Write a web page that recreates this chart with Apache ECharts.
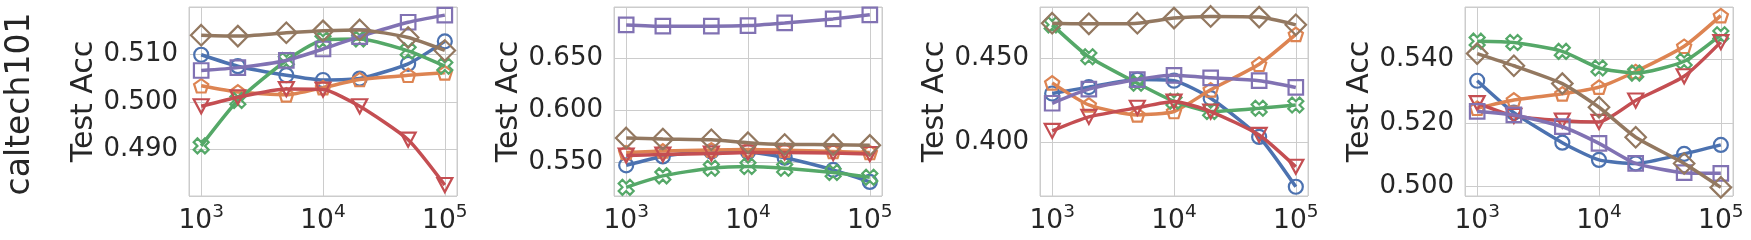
<!DOCTYPE html>
<html><head><meta charset="utf-8">
<script src="https://cdn.jsdelivr.net/npm/echarts@6/dist/echarts.min.js"></script>
<style>html,body{margin:0;padding:0;background:#fff}#c{width:1751px;height:240px}</style>
</head><body><div id="c"></div>
<script>
// ---- data ----
const sizes = [1000, 2000, 5000, 10000, 20000, 50000, 100000];
const rowLabel = 'caltech101';
const yAxisName = 'Test Acc';

const p1Circle   = [0.5099, 0.5075, 0.5056, 0.5046, 0.5049, 0.5080, 0.5127];
const p1Pentagon = [0.5034, 0.5021, 0.5015, 0.5030, 0.5047, 0.5056, 0.5061];
const p1X        = [0.4908, 0.5003, 0.5087, 0.5130, 0.5132, 0.5107, 0.5075];
const p1Triangle = [0.4991, 0.5010, 0.5027, 0.5026, 0.4991, 0.4921, 0.4826];
const p1Square   = [0.5066, 0.5072, 0.5087, 0.5111, 0.5137, 0.5167, 0.5182];
const p1Diamond  = [0.5140, 0.5138, 0.5145, 0.5149, 0.5151, 0.5135, 0.5108];

const p2Circle   = [0.5466, 0.5552, 0.5600, 0.5595, 0.5540, 0.5422, 0.5305];
const p2Pentagon = [0.5590, 0.5605, 0.5615, 0.5618, 0.5612, 0.5600, 0.5590];
const p2X        = [0.5253, 0.5364, 0.5438, 0.5455, 0.5438, 0.5396, 0.5351];
const p2Triangle = [0.5560, 0.5570, 0.5580, 0.5590, 0.5590, 0.5585, 0.5575];
const p2Square   = [0.6825, 0.6812, 0.6812, 0.6818, 0.6844, 0.6883, 0.6922];
const p2Diamond  = [0.5731, 0.5721, 0.5714, 0.5685, 0.5668, 0.5666, 0.5659];

const p3Circle   = [0.4290, 0.4328, 0.4373, 0.4366, 0.4262, 0.4032, 0.3736];
const p3Pentagon = [0.4353, 0.4222, 0.4163, 0.4183, 0.4312, 0.4464, 0.4641];
const p3X        = [0.4698, 0.4508, 0.4351, 0.4244, 0.4183, 0.4202, 0.4222];
const p3Triangle = [0.4068, 0.4151, 0.4205, 0.4242, 0.4183, 0.4044, 0.3855];
const p3Square   = [0.4232, 0.4316, 0.4373, 0.4398, 0.4383, 0.4366, 0.4326];
const p3Diamond  = [0.4708, 0.4704, 0.4708, 0.4738, 0.4748, 0.4744, 0.4698];

const p4Circle   = [0.5332, 0.5232, 0.5138, 0.5084, 0.5073, 0.5103, 0.5131];
const p4Pentagon = [0.5246, 0.5272, 0.5291, 0.5312, 0.5361, 0.5440, 0.5536];
const p4X        = [0.5456, 0.5452, 0.5424, 0.5372, 0.5356, 0.5393, 0.5476];
const p4Triangle = [0.5262, 0.5222, 0.5207, 0.5203, 0.5270, 0.5346, 0.5453];
const p4Square   = [0.5236, 0.5225, 0.5188, 0.5136, 0.5073, 0.5044, 0.5042];
const p4Diamond  = [0.5417, 0.5379, 0.5323, 0.5249, 0.5155, 0.5073, 0.4998];

const yMin = [0.4803, 0.5169, 0.3681, 0.4971];
const yMax = [0.5199, 0.6998, 0.4804, 0.5563];
const ySplit = [4, 4, 2, 3];

const panels = [
  [p1Circle, p1Pentagon, p1X, p1Triangle, p1Square, p1Diamond],
  [p2Circle, p2Pentagon, p2X, p2Triangle, p2Square, p2Diamond],
  [p3Circle, p3Pentagon, p3X, p3Triangle, p3Square, p3Diamond],
  [p4Circle, p4Pentagon, p4X, p4Triangle, p4Square, p4Diamond]
];

// ---- style ----
const colors = ['#4C72B0', '#DD8452', '#55A868', '#C44E52', '#8172B3', '#937860'];
const TXT = '#262626';
const GRID = '#cccccc';
const FONT = 'DejaVu Sans';
const symbols = [
  {symbol: 'circle', size: 14, rotate: 0},
  {symbol: 'path://M0,-1L0.951,-0.309L0.588,0.809L-0.588,0.809L-0.951,-0.309Z', size: [14.2, 13.5], rotate: 0},
  {symbol: 'path://M1,-2L2,-1L1,0L2,1L1,2L0,1L-1,2L-2,1L-1,0L-2,-1L-1,-2L0,-1Z', size: 15, rotate: 0},
  {symbol: 'triangle', size: [15, 14], rotate: 180},
  {symbol: 'rect', size: 14.5, rotate: 0},
  {symbol: 'diamond', size: 20.5, rotate: 0}
];
const lefts = [189, 614, 1040, 1465];

const grids = [], xAxes = [], yAxes = [], series = [];
panels.forEach((sets, p) => {
  grids.push({left: lefts[p], top: 7, width: 268, height: 189, show: true,
    borderColor: GRID, borderWidth: 1, backgroundColor: '#fff', containLabel: false});
  xAxes.push({
    type: 'log', logBase: 10, gridIndex: p,
    min: Math.pow(10, 2.9), max: Math.pow(10, 5.1),
    axisLine: {show: false}, axisTick: {show: false},
    splitLine: {show: true, lineStyle: {color: GRID, width: 1}},
    axisLabel: {
      showMinLabel: false, showMaxLabel: false, margin: 7,
      formatter: function (v) {
        const e = Math.log10(v);
        if (Math.abs(e - Math.round(e)) > 1e-6) return '';
        return '{b|10}{s|' + Math.round(e) + '}';
      },
      rich: {
        b: {fontSize: 26.5, fontFamily: FONT, color: TXT, verticalAlign: 'bottom', lineHeight: 32},
        s: {fontSize: 18.5, fontFamily: FONT, color: TXT, verticalAlign: 'top', lineHeight: 18}
      }
    }
  });
  yAxes.push({
    type: 'value', gridIndex: p, min: yMin[p], max: yMax[p], splitNumber: ySplit[p],
    name: yAxisName, nameLocation: 'middle', nameGap: 87,
    nameTextStyle: {fontSize: 30, fontFamily: FONT, color: TXT},
    axisLine: {show: false}, axisTick: {show: false},
    splitLine: {show: true, lineStyle: {color: GRID, width: 1}},
    axisLabel: {showMinLabel: false, showMaxLabel: false, margin: 11,
      fontSize: 26, fontFamily: FONT, color: TXT,
      formatter: v => v.toFixed(3)}
  });
  sets.forEach((vals, i) => {
    series.push({
      type: 'line', xAxisIndex: p, yAxisIndex: p,
      data: sizes.map((n, k) => [n, vals[k]]),
      smooth: 0.2,
      symbol: symbols[i].symbol, symbolSize: symbols[i].size, symbolRotate: symbols[i].rotate,
      showAllSymbol: true,
      lineStyle: {color: colors[i], width: 3.5},
      itemStyle: {color: 'rgba(255,255,255,0)', borderColor: colors[i], borderWidth: 2.2},
      z: 2 + i
    });
  });
});

const chart = echarts.init(document.getElementById('c'), null, {renderer: 'canvas'});
chart.setOption({
  animation: false,
  backgroundColor: '#ffffff',
  grid: grids, xAxis: xAxes, yAxis: yAxes, series: series,
  graphic: [{
    type: 'text', x: 20, y: 104, rotation: Math.PI / 2,
    style: {text: rowLabel, fontSize: 33, fontFamily: FONT, fill: TXT,
      align: 'center', verticalAlign: 'middle'}
  }]
});
</script></body></html>
